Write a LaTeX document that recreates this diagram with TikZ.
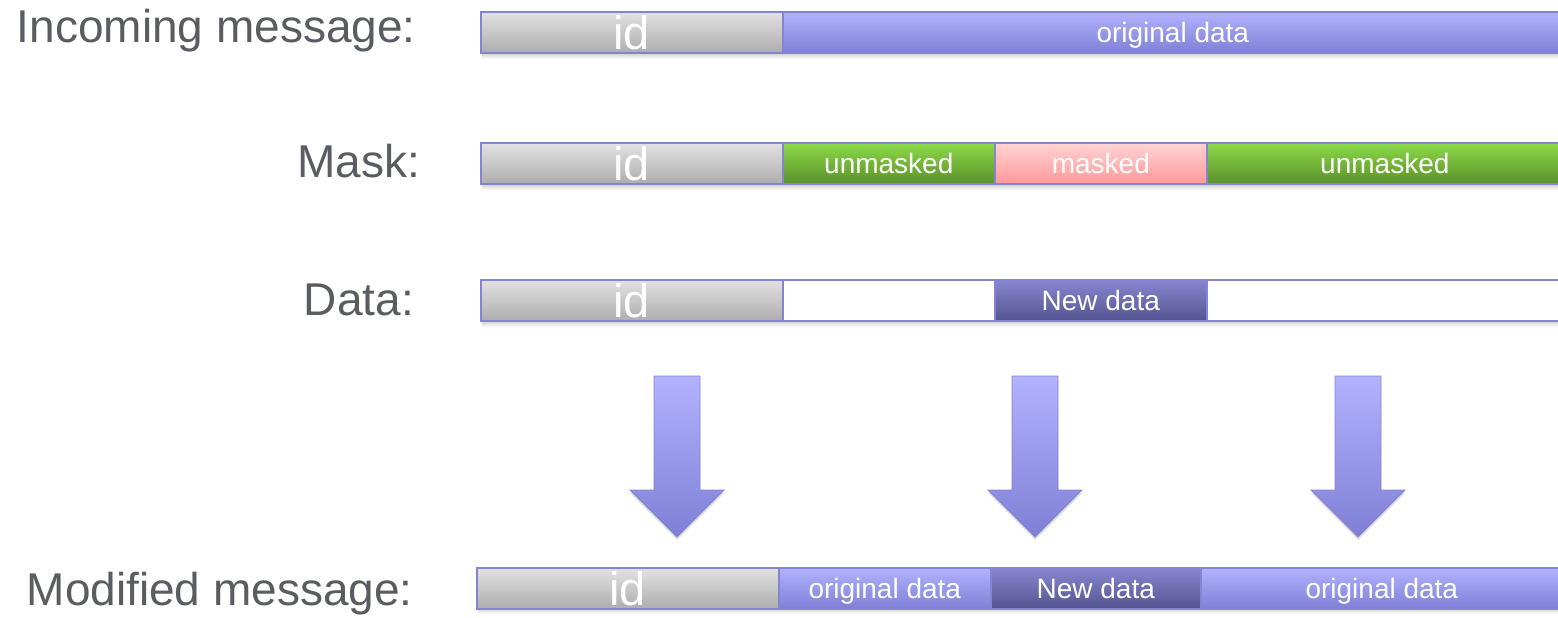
\documentclass[tikz,border=0pt]{standalone}
\usepackage{fontspec}
\setmainfont{Liberation Sans}
\usetikzlibrary{shadows}
\definecolor{bordc}{HTML}{8484D0}
\definecolor{labc}{HTML}{595C61}
\definecolor{greyT}{HTML}{E2E2E2}
\definecolor{greyB}{HTML}{ADADAD}
\definecolor{purT}{HTML}{B2B2FF}
\definecolor{purB}{HTML}{7F7FD6}
\definecolor{grnT}{HTML}{8EDA4A}
\definecolor{grnB}{HTML}{5A9128}
\definecolor{pinkT}{HTML}{FFD4D4}
\definecolor{pinkB}{HTML}{FF9898}
\definecolor{dpT}{HTML}{8886D0}
\definecolor{dpB}{HTML}{545490}
\tikzset{
  cell/.style={draw=bordc, line width=1.6pt, inner sep=0pt, anchor=north west,
    minimum height=41pt, text=white, font=\fontsize{28}{30}\selectfont,
    text height=20pt, text depth=0pt},
  idcell/.style={cell, top color=greyT, bottom color=greyB, minimum width=302pt,
    font=\fontsize{47}{49}\selectfont, text height=35pt},
  orig/.style={cell, top color=purT, bottom color=purB},
  unm/.style={cell, top color=grnT, bottom color=grnB},
  msk/.style={cell, top color=pinkT, bottom color=pinkB},
  newd/.style={cell, top color=dpT, bottom color=dpB},
  blank/.style={cell, fill=white},
  rowlabel/.style={anchor=base east, text=labc, inner sep=0pt, font=\fontsize{46}{48}\selectfont},
  shadowband/.style={top color=black!22, bottom color=white, draw=none},
  bigarrow/.style={draw=bordc, line width=0.8pt, top color=purT, bottom color=purB,
    drop shadow={shadow xshift=0pt, shadow yshift=-3pt, opacity=0.12, fill=black}}
}
\begin{document}
\begin{tikzpicture}[x=1pt, y=-1pt]
\useasboundingbox (0,0) rectangle (1558,618);
\clip (0,0) rectangle (1558,618);
% soft shadows under the rows
\foreach \yb/\xl in {52/482,183/482,320/482,607/478}{
  \path[shadowband] (\xl,\yb) rectangle (1560,\yb+7);
}
% labels
\node[rowlabel] (l1) at (416,43) {Incoming message:};
\node[rowlabel] (l2) at (420,177) {Mask:};
\node[rowlabel] (l3) at (414,315) {Data:};
\node[rowlabel] (l4) at (413,605) {Modified message:};
% row 1
\node[idcell] (r1id) at (480,11) {id};
\node[orig, minimum width=780pt] (r1d) at (782,11) {original data};
% row 2
\node[idcell] (r2id) at (480,142) {id};
\node[unm, minimum width=212pt] (r2a) at (782,142) {unmasked};
\node[msk, minimum width=212pt] (r2b) at (994,142) {masked};
\node[unm, minimum width=356pt] (r2c) at (1206,142) {unmasked};
% row 3
\node[idcell] (r3id) at (480,279) {id};
\node[blank, minimum width=212pt] (r3a) at (782,279) {};
\node[newd, minimum width=212pt] (r3b) at (994,279) {New data};
\node[blank, minimum width=356pt] (r3c) at (1206,279) {};
% arrows
\foreach \cx in {677,1035,1358}{
  \path[bigarrow] (\cx-23,376) -- (\cx+23,376) -- (\cx+23,490) -- (\cx+47,490)
     -- (\cx,537) -- (\cx-47,490) -- (\cx-23,490) -- cycle;
}
% row 4
\node[idcell] (r4id) at (476,567) {id};
\node[orig, minimum width=212pt] (r4a) at (778,567) {original data};
\node[newd, minimum width=210pt] (r4b) at (990,567) {New data};
\node[orig, minimum width=362pt] (r4c) at (1200,567) {original data};
\end{tikzpicture}
\end{document}
